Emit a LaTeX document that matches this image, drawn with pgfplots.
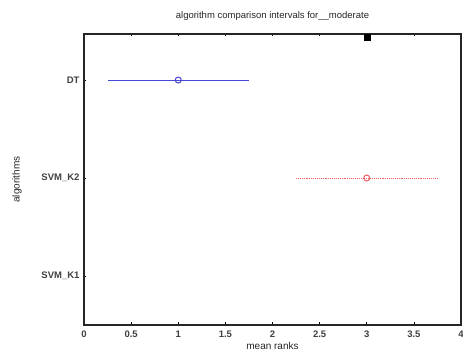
\documentclass[border=0pt]{standalone}
\usepackage{pgfplots}
\pgfplotsset{compat=1.18}
\usepackage{fontspec}
\setmainfont{Liberation Sans}
\definecolor{mblue}{RGB}{70,70,215}
\definecolor{mred}{RGB}{238,95,95}
\begin{document}
\begin{tikzpicture}
\begin{axis}[
  name=ax,
  scale only axis,
  width=377pt, height=291pt,
  xmin=0, xmax=4, ymin=0.5, ymax=3.47,
  xtick={0,0.5,1,1.5,2,2.5,3,3.5,4},
  xticklabels={0,0.5,1,1.5,2,2.5,3,3.5,4},
  ytick={1,2,3},
  yticklabels={SVM\_K1,SVM\_K2,DT},
  tick align=inside,
  major tick length=2.5pt,
  xtick pos=both, ytick pos=left,
  axis line style={line width=1.8pt, black!85},
  every tick/.style={black, line width=0.7pt},
  tick label style={font=\fontsize{9.5}{10}\selectfont\bfseries, text=black!75},
  xticklabel style={yshift=-2pt},
  yticklabel style={xshift=-1pt},
  title={algorithm comparison intervals for\_\_moderate},
  title style={font=\fontsize{9.5}{10}\selectfont, text=black!85, yshift=4pt},
  xlabel={mean ranks},
  ylabel={algorithms},
  xlabel style={font=\fontsize{10}{11}\selectfont, text=black!85, yshift=2pt},
  ylabel style={font=\fontsize{10}{11}\selectfont, text=black!85, yshift=13pt},
  clip=false,
]
\addplot[mblue, line width=0.9pt] coordinates {(0.25,3) (1.75,3)};
\addplot[mblue, only marks, mark=o, mark size=3pt, mark options={line width=1pt, fill=white}] coordinates {(1,3)};
\addplot[mred, line width=0.9pt, densely dotted] coordinates {(2.25,2) (3.75,2)};
\addplot[mred, only marks, mark=o, mark size=3pt, mark options={line width=1pt, fill=white, solid}] coordinates {(3,2)};
\addplot[black, only marks, mark=square*, mark size=3pt] coordinates {(3,3.44)};
\end{axis}
\pgfresetboundingbox
\path ([shift={(-84pt,-33pt)}]ax.south west) rectangle ([shift={(2pt,34pt)}]ax.north east);
\end{tikzpicture}
\end{document}
